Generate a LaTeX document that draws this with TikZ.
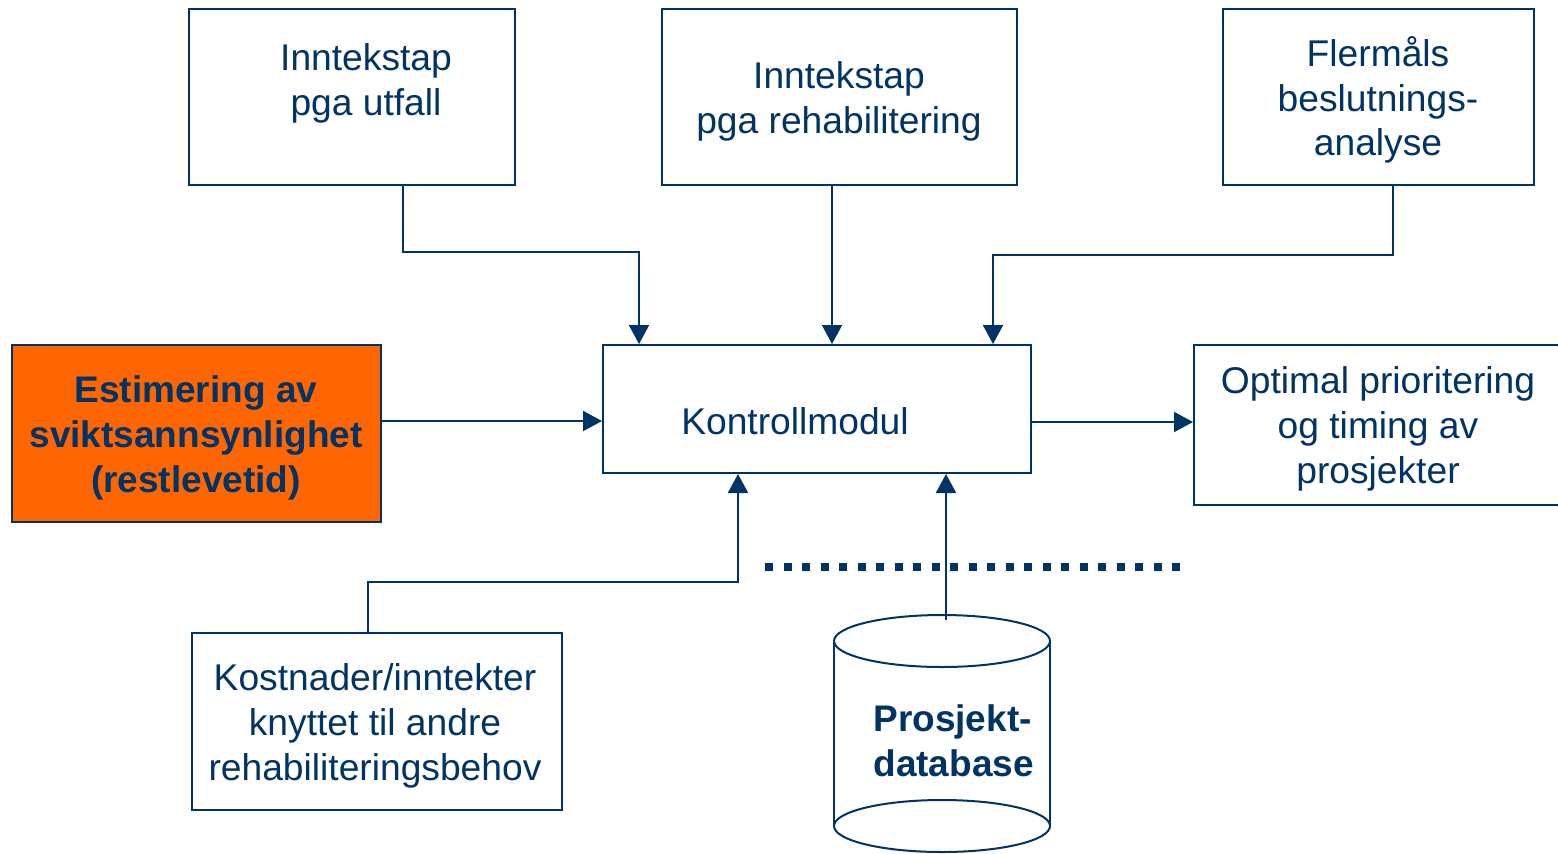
\documentclass[tikz,border=0pt]{standalone}
\usepackage{fontspec}
\setmainfont{Liberation Sans}
\usetikzlibrary{arrows.meta}
\definecolor{navy}{RGB}{0,51,102}
\definecolor{oransje}{RGB}{255,102,0}
\tikzset{
  boks/.style={draw=navy, line width=1pt, inner sep=0pt, fill=white},
  tekst/.style={text=navy, align=center, inner sep=0pt,
    font=\fontsize{18.6}{22.4}\selectfont},
  fet/.style={tekst, font=\fontsize{18.5}{22.4}\selectfont\bfseries},
  pil/.style={draw=navy, line width=1pt, -{Triangle[length=9.5pt,width=10pt]}}
}
\begin{document}
\begin{tikzpicture}[x=0.5pt,y=-0.5pt]
  \clip (0,0) rectangle (1558,853);

  % Bokser
  \node[boks, minimum width=163pt, minimum height=88pt] (utfall) at (352,97) {};
  \node[boks, minimum width=177.5pt, minimum height=88pt] (rehab) at (839.5,97) {};
  \node[boks, minimum width=155.5pt, minimum height=88pt] (flermaal) at (1378.5,97) {};
  \node[boks, fill=oransje, minimum width=184.5pt, minimum height=88.5pt] (estimering) at (196.5,433.5) {};
  \node[boks, minimum width=214pt, minimum height=64pt] (kontroll) at (817,409) {};
  \node[boks, minimum width=203pt, minimum height=80pt] (optimal) at (1397,425) {};
  \node[boks, minimum width=185pt, minimum height=88.5pt] (kostnader) at (377,721.5) {};

  % Tekster
  \node[tekst] (tutfall) at (366,83) {Inntekstap\\pga utfall};
  \node[tekst] (trehab) at (839,101) {Inntekstap\\pga rehabilitering};
  \node[tekst] (tflermaal) at (1378,100) {Flermåls\\beslutnings-\\analyse};
  \node[fet] (testimering) at (196,438) {Estimering av\\sviktsannsynlighet\\(restlevetid)};
  \node[tekst] (tkontroll) at (795,421) {Kontrollmodul};
  \node[tekst] (toptimal) at (1378,429) {Optimal prioritering\\og timing av\\prosjekter};
  \node[tekst] (tkostnader) at (375,726) {Kostnader/inntekter\\knyttet til andre\\rehabiliteringsbehov};

  % Database
  \draw[navy, line width=1pt, fill=white] (834,641) -- (834,826) -- (1050,826) -- (1050,641);
  \draw[navy, line width=1pt, fill=white] (942,641) ellipse [x radius=108, y radius=26];
  \draw[navy, line width=1pt, fill=white] (942,826) ellipse [x radius=108, y radius=26];
  \node[fet, align=left, anchor=west] (tdatabase) at (873,741) {Prosjekt-\\database};
  \coordinate (database) at (946,620);

  % Stiplet linje
  \draw[navy, line width=4pt, dash pattern=on 4pt off 5.25pt] (765,567) -- (1180,567);

  % Piler
  \draw[pil] (403,0 |- utfall.south) -- (403,252) -| (639,0 |- kontroll.north);
  \draw[pil] (832,0 |- rehab.south) -- (832,0 |- kontroll.north);
  \draw[pil] (1393,0 |- flermaal.south) -- (1393,255) -| (993,0 |- kontroll.north);
  \draw[pil] (estimering.east |- 0,421) -- (kontroll.west |- 0,421);
  \draw[pil] (kontroll.east |- 0,422) -- (optimal.west |- 0,422);
  \draw[pil] (368,0 |- kostnader.north) -- (368,582) -| (738,0 |- kontroll.south);
  \draw[pil] (database) -- (946,0 |- kontroll.south);
\end{tikzpicture}
\end{document}
